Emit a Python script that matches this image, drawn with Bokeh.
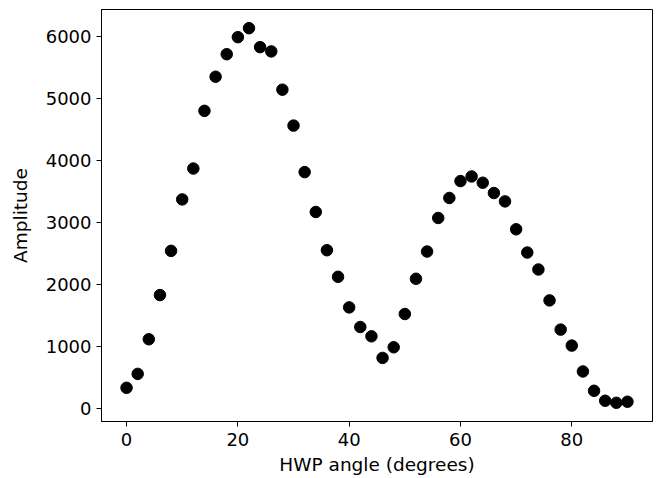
from bokeh.plotting import figure
from bokeh.models import FixedTicker, Range1d, ColumnDataSource
from bokeh.embed import file_html
from bokeh.resources import INLINE

angles = list(range(0, 91, 2))
amplitude = [332, 557, 1116, 1830, 2544, 3375, 3874, 4805, 5356, 5720,
             5995, 6140, 5834, 5765, 5147, 4567, 3816, 3172, 2554, 2125,
             1631, 1314, 1164, 815, 987, 1524, 2093, 2533, 3075, 3398,
             3671, 3746, 3644, 3478, 3343, 2892, 2517, 2243, 1744, 1272,
             1014, 596, 284, 123, 90, 107]
x_ticks = [0, 20, 40, 60, 80]
y_ticks = [0, 1000, 2000, 3000, 4000, 5000, 6000]

src = ColumnDataSource(dict(x=angles, y=amplitude))

p = figure(width=660, height=478, output_backend="svg", toolbar_location=None,
           min_border_left=101, min_border_right=8, min_border_top=9, min_border_bottom=57,
           x_range=Range1d(-4.5, 94.5), y_range=Range1d(-212, 6442))

p.scatter("x", "y", source=src, size=11.5, color="black")

p.xgrid.visible = False
p.ygrid.visible = False
p.outline_line_color = "black"
p.outline_line_width = 1

p.xaxis.ticker = FixedTicker(ticks=x_ticks)
p.yaxis.ticker = FixedTicker(ticks=y_ticks)
p.xaxis.axis_label = "HWP angle (degrees)"
p.yaxis.axis_label = "Amplitude"

for ax in (p.xaxis, p.yaxis):
    ax.major_label_text_font = "DejaVu Sans"
    ax.major_label_text_font_size = "18px"
    ax.major_label_text_color = "black"
    ax.axis_label_text_font = "DejaVu Sans"
    ax.axis_label_text_font_size = "18.5px"
    ax.axis_label_text_font_style = "normal"
    ax.axis_label_text_color = "black"
    ax.major_tick_in = 0
    ax.major_tick_out = 5
    ax.minor_tick_line_color = None
    ax.axis_line_color = "black"
    ax.major_tick_line_color = "black"
    ax.major_label_standoff = 6
    ax.axis_label_standoff = 5

p.yaxis.major_label_standoff = 5
p.yaxis.axis_label_standoff = 12
p.yaxis.major_label_orientation = "horizontal"

open("out.html", "w").write(file_html(p, INLINE))
